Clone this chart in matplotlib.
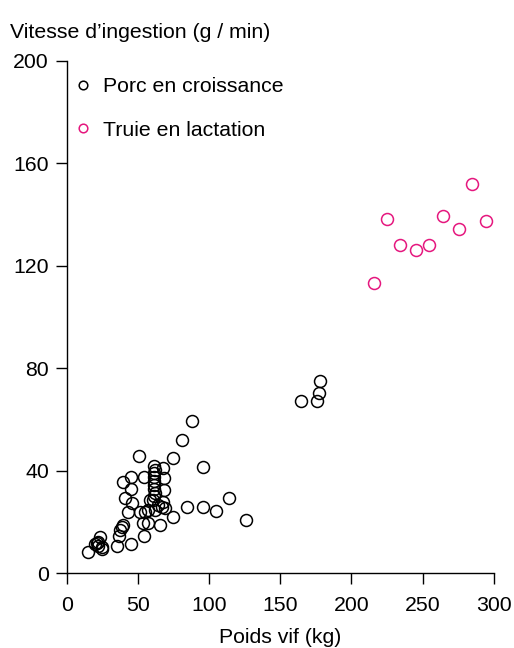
import numpy as np
import matplotlib
matplotlib.use("Agg")
import matplotlib.pyplot as plt

plt.rcParams['font.family'] = ['Liberation Sans', 'DejaVu Sans']

# porc en croissance (poids vif kg, vitesse g/min)
porc_x = [15, 19.7, 20.9, 22, 23.2, 24.4, 22, 24.6,
          35.4, 36.8, 37.3, 38.5, 39.6, 44.8,
          54.1, 53.7, 57.2, 65.4, 51.3, 54.9, 57.2, 43.1, 45.5, 40.8,
          44.8, 39.2, 44.8, 54.1, 50.6, 58.4, 61.9, 64.2, 66.6, 68.9,
          67.7, 68.2, 68.2, 67.7,
          61.5, 62, 61, 61.5, 61, 61, 61.5, 62, 61, 60.5,
          74.8, 74.8, 80.6, 87.7, 84.2, 95.4, 95.4, 104.8, 114.1, 125.7,
          164.3, 175.6, 177.4, 177.9]
porc_y = [8.4, 11.4, 11.7, 12.3, 14.1, 10.4, 10.7, 9.6,
          10.6, 14.6, 16.9, 18.2, 18.9, 11.4,
          14.6, 19.8, 19.8, 18.9, 24, 24, 24.7, 24, 27.3, 29.3,
          32.8, 35.8, 37.5, 37.5, 45.9, 28.6, 24.7, 26.7, 26, 25.4,
          28, 32.5, 37.1, 41,
          42, 40.5, 39, 37.5, 36, 34.5, 33, 31.5, 30, 28.5,
          44.9, 22.1, 52, 59.5, 26, 41.6, 26, 24.3, 29.3, 20.8,
          67.1, 67.1, 70.3, 75.1]

# truie en lactation
truie_x = [215.7, 224.8, 234.2, 245.2, 254.6, 264.2, 275.4, 284.6, 294.4]
truie_y = [113.5, 138.4, 128.2, 126.1, 128.2, 139.5, 134.4, 152, 137.5]

pink = '#e5177e'
fs = 15.3

fig = plt.figure(figsize=(5.14, 6.48), dpi=100)
ax = fig.add_axes([0.1304, 0.1153, 0.8301, 0.7906])

ax.plot(porc_x, porc_y, 'o', ms=8.6, mfc='none', mec='black', mew=1.1,
        clip_on=False, label='Porc en croissance')
ax.plot(truie_x, truie_y, 'o', ms=8.6, mfc='none', mec=pink, mew=1.1,
        clip_on=False, label='Truie en lactation')

ax.set_xlim(0, 300)
ax.set_ylim(0, 200)
ax.set_xticks(np.arange(0, 301, 50))
ax.set_yticks(np.arange(0, 201, 40))
for s in ['top', 'right']:
    ax.spines[s].set_visible(False)
for s in ['left', 'bottom']:
    ax.spines[s].set_linewidth(1.0)
ax.tick_params(direction='out', length=8, width=1.0, labelsize=fs)
ax.tick_params(axis='x', pad=8)
ax.tick_params(axis='y', pad=5)

ax.set_xlabel('Poids vif (kg)', fontsize=fs, labelpad=10)
fig.text(10 / 514, 1 - 32 / 648, 'Vitesse d\u2019ingestion (g / min)', fontsize=fs,
         ha='left', va='center')

leg = ax.legend(loc='upper left', bbox_to_anchor=(-0.005, 0.985), frameon=False,
                fontsize=fs, markerscale=0.72, handlelength=0.9,
                handletextpad=0.5, labelspacing=1.15, borderaxespad=0)

fig.savefig('out.png', dpi=100)
